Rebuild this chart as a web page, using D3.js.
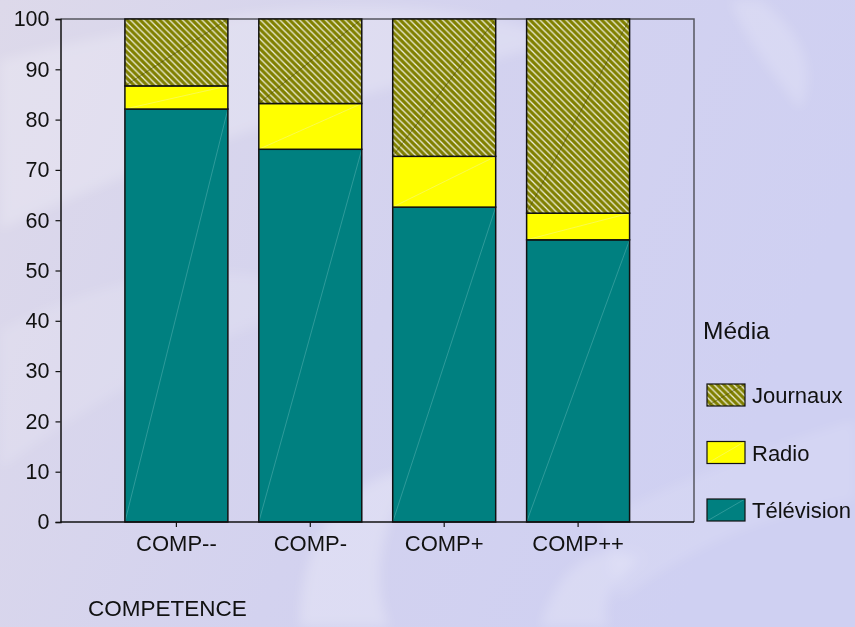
<!DOCTYPE html>
<html>
<head>
<meta charset="utf-8">
<script src="https://cdn.jsdelivr.net/npm/d3@7"></script>
<style>
  html, body { margin: 0; padding: 0; background: #d6d4ee; }
  svg { display: block; font-family: Arial, "Liberation Sans", sans-serif; }
</style>
</head>
<body>
<svg id="chart" width="855" height="627"></svg>
<script>
// Stacked percentage of media use per competence level
const categories = ["COMP--", "COMP-", "COMP+", "COMP++"];
const seriesNames = ["Télévision", "Radio", "Journaux"];
const television = [82.1, 74.1, 62.6, 56.1];
const radio = [4.6, 9.1, 10.1, 5.3];
const journaux = [13.3, 16.8, 27.3, 38.6];
const yTicks = [0, 10, 20, 30, 40, 50, 60, 70, 80, 90, 100];
const legendOrder = ["Journaux", "Radio", "Télévision"];

const rows = categories.map((c, i) => ({
  cat: c, "Télévision": television[i], "Radio": radio[i], "Journaux": journaux[i]
}));

const svg = d3.select("#chart");
const W = 855, H = 627;
const plotL = 60.5, plotR = 694, plotT = 19, plotB = 522;
const FONT = "Arial, 'Liberation Sans', sans-serif";

// Background with soft watermark shapes
const defs = svg.append("defs");
const bg = defs.append("linearGradient").attr("id", "bg")
  .attr("x1", 0).attr("y1", 0).attr("x2", 1).attr("y2", 0.3);
bg.append("stop").attr("offset", 0).attr("stop-color", "#ddd9ea");
bg.append("stop").attr("offset", 0.55).attr("stop-color", "#d3d2ef");
bg.append("stop").attr("offset", 1).attr("stop-color", "#cfd0f2");
svg.append("rect").attr("width", W).attr("height", H).attr("fill", "url(#bg)");

const soft = defs.append("filter").attr("id", "soft")
  .attr("x", -0.3).attr("y", -0.3).attr("width", 1.6).attr("height", 1.6);
soft.append("feGaussianBlur").attr("stdDeviation", 6);

const wm = svg.append("g").attr("filter", "url(#soft)").attr("fill", "#ffffff");
wm.append("path").attr("d", "M0,60 C200,10 420,-20 560,40 C470,70 260,110 0,230 Z").attr("opacity", 0.22);
wm.append("path").attr("d", "M0,330 C120,270 240,250 330,300 C230,330 120,380 0,470 Z").attr("opacity", 0.14);
wm.append("path").attr("d", "M300,627 C300,520 360,470 420,470 C380,520 370,580 390,627 Z").attr("opacity", 0.25);
wm.append("path").attr("d", "M540,627 C560,560 600,540 640,560 C610,580 600,610 610,627 Z").attr("opacity", 0.2);
wm.append("path").attr("d", "M760,0 C800,30 820,70 800,110 C780,80 750,50 730,0 Z").attr("opacity", 0.18);
wm.append("path").attr("d", "M600,520 C700,470 790,440 855,420 L855,500 C780,510 700,540 620,600 Z").attr("opacity", 0.12);

// Hatch for Journaux
const P = 6.5;
const pat = defs.append("pattern").attr("id", "hatch")
  .attr("patternUnits", "userSpaceOnUse").attr("width", P).attr("height", P);
pat.append("rect").attr("width", P).attr("height", P).attr("fill", "#808000");
pat.append("path").attr("d", `M-1,-1 L${P + 1},${P + 1} M-1,${P - 1} L1,${P + 1} M${P - 1},-1 L${P + 1},1`)
  .attr("stroke", "#eeeed8").attr("stroke-width", 1.3);

const fills = { "Télévision": "#008080", "Radio": "#ffff00", "Journaux": "url(#hatch)" };
const diag = { "Télévision": "#5fb5b5", "Radio": "#f4f4a0", "Journaux": "#404000" };

const x = d3.scaleBand().domain(categories).range([plotL, plotR])
  .paddingInner(0.231).paddingOuter(0.481);
const y = d3.scaleLinear().domain([0, 100]).range([plotB, plotT]);

// Frame (top and right)
svg.append("path")
  .attr("d", `M${plotL},${plotT}H${plotR}V${plotB}`)
  .attr("fill", "none").attr("stroke", "#55555f").attr("stroke-width", 1.5);

const stack = d3.stack().keys(seriesNames)(rows);

const layers = svg.append("g").selectAll("g").data(stack).join("g");
layers.each(function (s) {
  const g = d3.select(this);
  s.forEach(d => {
    const x0 = x(d.data.cat), bw = x.bandwidth();
    const y0 = y(d[0]), y1 = y(d[1]);
    g.append("rect")
      .attr("x", x0).attr("y", y1).attr("width", bw).attr("height", y0 - y1)
      .attr("fill", fills[s.key]);
    g.append("line")
      .attr("x1", x0).attr("y1", y0).attr("x2", x0 + bw).attr("y2", y1)
      .attr("stroke", diag[s.key]).attr("stroke-width", 0.7).attr("opacity", 0.7);
    g.append("rect")
      .attr("x", x0).attr("y", y1).attr("width", bw).attr("height", y0 - y1)
      .attr("fill", "none").attr("stroke", "#111").attr("stroke-width", 1.5);
  });
});

// Axes
const yAxis = d3.axisLeft(y).tickValues(yTicks).tickSize(5).tickPadding(6);
const gy = svg.append("g").attr("transform", `translate(${plotL},0)`).call(yAxis);
gy.select(".domain").attr("stroke", "#111").attr("stroke-width", 1.5);
gy.selectAll(".tick line").attr("stroke", "#111").attr("stroke-width", 1.2);
gy.selectAll("text").attr("font-size", 21.5).attr("fill", "#111").attr("font-family", FONT);

const xAxis = d3.axisBottom(x).tickSize(5).tickPadding(8);
const gx = svg.append("g").attr("transform", `translate(0,${plotB})`).call(xAxis);
gx.select(".domain").attr("d", `M${plotL},0H${plotR}`).attr("stroke", "#111").attr("stroke-width", 1.5);
gx.selectAll(".tick line").attr("stroke", "#111").attr("stroke-width", 1.2);
gx.selectAll("text").attr("font-size", 22).attr("fill", "#111").attr("font-family", FONT);

// Axis title
svg.append("text").attr("x", 88).attr("y", 616)
  .attr("font-size", 22.5).attr("fill", "#111").text("COMPETENCE");

// Legend
svg.append("text").attr("x", 703).attr("y", 339)
  .attr("font-size", 24.5).attr("fill", "#111").text("Média");
const lg = svg.append("g").selectAll("g").data(legendOrder).join("g")
  .attr("transform", (d, i) => `translate(707,${384 + i * 57.5})`);
lg.append("rect").attr("width", 38).attr("height", 22)
  .attr("fill", d => fills[d]);
lg.append("line").attr("x1", 0).attr("y1", 22).attr("x2", 38).attr("y2", 0)
  .attr("stroke", d => diag[d]).attr("stroke-width", 0.7).attr("opacity", 0.7);
lg.append("rect").attr("width", 38).attr("height", 22)
  .attr("fill", "none").attr("stroke", "#111").attr("stroke-width", 1.2);
lg.append("text").attr("x", 45).attr("y", 19)
  .attr("font-size", 22).attr("fill", "#111").text(d => d);
</script>
</body>
</html>
